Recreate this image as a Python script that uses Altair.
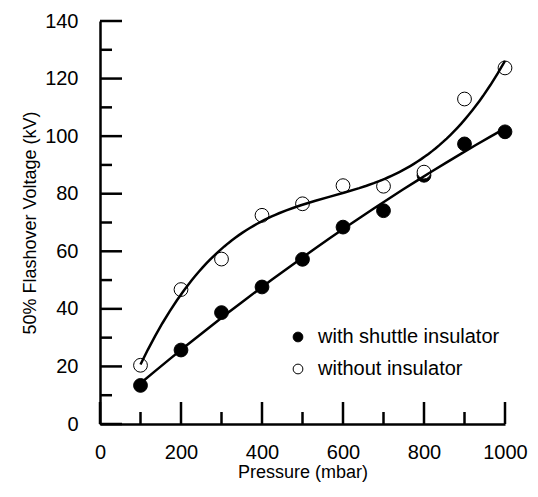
import altair as alt
import pandas as pd

pressure = [100, 200, 300, 400, 500, 600, 700, 800, 900, 1000]
with_insulator = [13.4, 25.7, 38.7, 47.6, 57.2, 68.4, 74.1, 86.4, 97.3, 101.5]
without_insulator = [20.4, 46.7, 57.3, 72.5, 76.5, 82.8, 82.6, 87.5, 112.9, 123.7]
series_names = ["with shuttle insulator", "without insulator"]

x_major = [0, 200, 400, 600, 800, 1000]
x_minor = [100, 300, 500, 700, 900]
y_major = [0, 20, 40, 60, 80, 100, 120, 140]
y_minor = [10, 30, 50, 70, 90, 110, 130]

W, H = 405, 403
FONT = "Liberation Sans"

df = pd.DataFrame({
    "pressure": pressure * 2,
    "voltage": with_insulator + without_insulator,
    "series": [series_names[0]] * len(pressure) + [series_names[1]] * len(pressure),
})

xscale = alt.Scale(domain=[0, 1000], nice=False, zero=False)
yscale = alt.Scale(domain=[0, 140], nice=False, zero=False)

x_axis = alt.Axis(values=x_major, format="d", title="Pressure (mbar)", grid=False, ticks=False, tickSize=0,
                  labelPadding=18, titlePadding=1, labelFontSize=20, titleFontSize=18,
                  domainColor="black", domainWidth=2.5, labelFlush=False)
y_axis = alt.Axis(values=y_major, format="d", title="50% Flashover Voltage (kV)", grid=False, ticks=False,
                  tickSize=0, labelPadding=22, titlePadding=5, labelFontSize=20, titleFontSize=18,
                  domainColor="black", domainWidth=2.5, labelFlush=False)

base = alt.Chart(df)

points = base.mark_point(filled=True, stroke="black", strokeWidth=1, size=190, opacity=1).encode(
    x=alt.X("pressure:Q", scale=xscale, axis=x_axis),
    y=alt.Y("voltage:Q", scale=yscale, axis=y_axis),
    fill=alt.Fill("series:N", scale=alt.Scale(domain=series_names, range=["black", "white"]),
                  legend=alt.Legend(title=None, orient="none", legendX=188, legendY=306,
                                    labelFontSize=20, labelFont=FONT, labelColor="black",
                                    labelLimit=400,
                                    symbolType="circle", symbolSize=95, symbolStrokeColor="black",
                                    symbolStrokeWidth=1, rowPadding=12, labelOffset=10, padding=0)),
)

line_with = base.transform_filter(alt.datum.series == series_names[0]).transform_regression(
    "pressure", "voltage", method="poly", order=2
).mark_line(color="black", strokeWidth=2.5).encode(
    x=alt.X("pressure:Q", scale=xscale, axis=x_axis),
    y=alt.Y("voltage:Q", scale=yscale, axis=y_axis),
)

line_without = base.transform_filter(alt.datum.series == series_names[1]).transform_regression(
    "pressure", "voltage", method="poly", order=3
).mark_line(color="black", strokeWidth=2.5).encode(
    x=alt.X("pressure:Q", scale=xscale, axis=x_axis),
    y=alt.Y("voltage:Q", scale=yscale, axis=y_axis),
)

ymaj = alt.Chart(pd.DataFrame({"voltage": y_major})).mark_rule(color="black", strokeWidth=2.5).encode(
    y=alt.Y("voltage:Q", scale=yscale, axis=y_axis), x=alt.value(0), x2=alt.value(22))
ymin = alt.Chart(pd.DataFrame({"voltage": y_minor})).mark_rule(color="black", strokeWidth=2.5).encode(
    y=alt.Y("voltage:Q", scale=yscale, axis=y_axis), x=alt.value(0), x2=alt.value(12))
xmaj = alt.Chart(pd.DataFrame({"pressure": x_major})).mark_rule(color="black", strokeWidth=2.5).encode(
    x=alt.X("pressure:Q", scale=xscale, axis=x_axis), y=alt.value(H), y2=alt.value(H - 22))
xmin = alt.Chart(pd.DataFrame({"pressure": x_minor})).mark_rule(color="black", strokeWidth=2.5).encode(
    x=alt.X("pressure:Q", scale=xscale, axis=x_axis), y=alt.value(H), y2=alt.value(H - 12))

chart = alt.layer(points, line_with, line_without, ymaj, ymin, xmaj, xmin).properties(
    width=W, height=H,
    autosize=alt.AutoSizeParams(type="none"),
    padding={"left": 92, "top": 13, "right": 25, "bottom": 58},
).configure_view(stroke="transparent").configure_axis(
    labelFont=FONT, titleFont=FONT, labelColor="black", titleColor="black", titleFontWeight="normal"
)

chart.save("out.html", embed_options={"renderer": "svg", "actions": False})
